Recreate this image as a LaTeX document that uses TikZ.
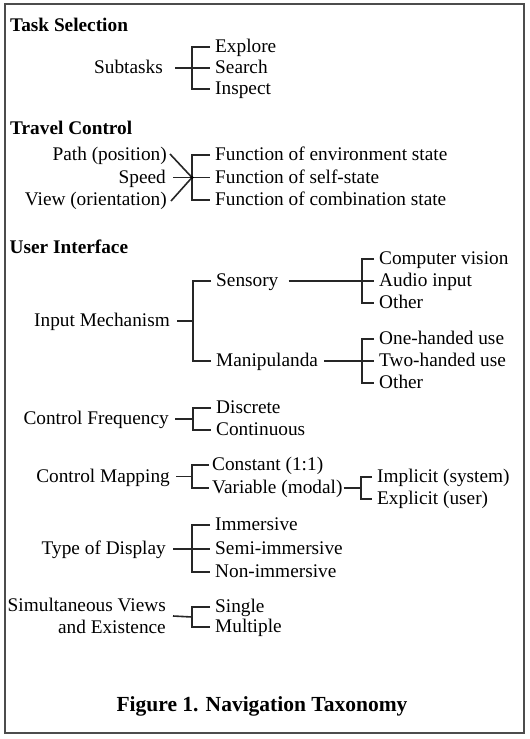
\documentclass[tikz,border=0pt]{standalone}
\usepackage{fontspec}
\setmainfont{Liberation Serif}
\begin{document}
\begin{tikzpicture}[x=1pt,y=-1pt,
  base/.style={inner sep=0pt, text height=14pt, text depth=3pt, font=\fontsize{19.3}{22}\selectfont},
  item/.style={base, anchor=west},
  lab/.style={base, anchor=east},
  head/.style={base, anchor=west, font=\fontsize{19.3}{22}\selectfont\bfseries},
  conn/.style={line width=1.6pt, draw=black!85},
  frame/.style={line width=1.8pt, draw=black!70}]
\useasboundingbox (0,0) rectangle (530,739);
\draw[frame] (5,4) rectangle (524,733);

% Task Selection
\node[head] (ts) at (10,25.5) {Task Selection};
\node[lab] (sub) at (163,68) {Subtasks};
\node[item] (exp) at (215,47) {Explore};
\node[item] (sea) at (215,68) {Search};
\node[item] (ins) at (215,89) {Inspect};
\coordinate (jsub) at (192,68);
\draw[conn] ([xshift=12pt]sub.east) -- (jsub) -- ([xshift=-5pt]sea.west);
\draw[conn] ([xshift=-5pt]exp.west) -| (jsub) |- ([xshift=-5pt]ins.west);

% Travel Control
\node[head] (tc) at (10,128.5) {Travel Control};
\node[lab] (path) at (167,155) {Path (position)};
\node[lab] (speed) at (166,177.5) {Speed};
\node[lab] (view) at (167,200) {View (orientation)};
\node[item] (fe) at (215,155) {Function of environment state};
\node[item] (fs) at (215,177.5) {Function of self-state};
\node[item] (fc) at (215,200) {Function of combination state};
\coordinate (jtc) at (192,177.5);
\draw[conn] ([xshift=3pt,yshift=1pt]path.east) -- (jtc);
\draw[conn] ([xshift=4pt,yshift=-1pt]view.east) -- (jtc);
\draw[conn] ([xshift=7pt]speed.east) -- (jtc) -- ([xshift=-5pt]fs.west);
\draw[conn] ([xshift=-5pt]fe.west) -| (jtc) |- ([xshift=-5pt]fc.west);
\fill[black] (jtc) circle (1.8pt);

% User Interface
\node[head] (ui) at (9.5,247.5) {User Interface};
\node[lab] (im) at (170,321) {Input Mechanism};
\node[item] (sens) at (216,281) {Sensory};
\node[item] (manip) at (216,361) {Manipulanda};
\coordinate (jim) at (193,321);
\draw[conn] ([xshift=7pt]im.east) -- (jim);
\draw[conn] ([xshift=-5pt]sens.west) -| (jim) |- ([xshift=-5pt]manip.west);

\node[item] (cv) at (379,259) {Computer vision};
\node[item] (ai) at (379,281) {Audio input};
\node[item] (oth1) at (379,303) {Other};
\coordinate (jsens) at (362,281);
\draw[conn] ([xshift=10pt]sens.east) -- (jsens) -- ([xshift=-5pt]ai.west);
\draw[conn] ([xshift=-5pt]cv.west) -| (jsens) |- ([xshift=-5pt]oth1.west);

\node[item] (one) at (379,339) {One-handed use};
\node[item] (two) at (379,361) {Two-handed use};
\node[item] (oth2) at (379,383) {Other};
\coordinate (jman) at (362,361);
\draw[conn] ([xshift=6pt]manip.east) -- (jman) -- ([xshift=-5pt]two.west);
\draw[conn] ([xshift=-5pt]one.west) -| (jman) |- ([xshift=-5pt]oth2.west);

% Control Frequency
\node[lab] (cf) at (169,419) {Control Frequency};
\node[item] (disc) at (216,408) {Discrete};
\node[item] (cont) at (216,430) {Continuous};
\coordinate (jcf) at (193,419);
\draw[conn] ([xshift=6pt]cf.east) -- (jcf);
\draw[conn] ([xshift=-5pt]disc.west) -| (jcf) |- ([xshift=-5pt]cont.west);

% Control Mapping
\node[lab] (cm) at (170,476.5) {Control Mapping};
\node[item] (const) at (212,465) {Constant (1:1)};
\node[item] (var) at (212,488) {Variable (modal)};
\coordinate (jcm) at (192,476.5);
\draw[conn] ([xshift=6pt]cm.east) -- (jcm);
\draw[conn] ([xshift=-3pt]const.west) -| (jcm) |- ([xshift=-3pt]var.west);

\node[item] (impl) at (377,477) {Implicit (system)};
\node[item] (expl) at (377,499) {Explicit (user)};
\coordinate (jvar) at (361,488);
\draw[conn] ([xshift=1pt]var.east) -- (jvar);
\draw[conn] ([xshift=-5pt]impl.west) -| (jvar) |- ([xshift=-5pt]expl.west);

% Type of Display
\node[lab] (tod) at (166,549) {Type of Display};
\node[item] (imm) at (215,525) {Immersive};
\node[item] (semi) at (215,549) {Semi-immersive};
\node[item] (non) at (215,572) {Non-immersive};
\coordinate (jtod) at (192,549);
\draw[conn] ([xshift=7pt]tod.east) -- (jtod) -- ([xshift=-5pt]semi.west);
\draw[conn] ([xshift=-5pt]imm.west) -| (jtod) |- ([xshift=-5pt]non.west);

% Simultaneous Views
\node[anchor=east, inner sep=0pt, align=right, font=\fontsize{19.3}{22}\selectfont] (sv) at (166,616) {Simultaneous Views\\and Existence};
\node[item] (sing) at (215,607) {Single};
\node[item] (mult) at (215,627) {Multiple};
\coordinate (jsv) at (192,617);
\draw[conn] ([xshift=7pt]sv.east) -- (jsv);
\draw[conn] ([xshift=-5pt]sing.west) -| (jsv) |- ([xshift=-5pt]mult.west);

% Caption
\node[anchor=base, inner sep=0pt, font=\fontsize{21.5}{24}\selectfont\bfseries] (cap) at (262,711) {Figure 1. Navigation Taxonomy};
\end{tikzpicture}
\end{document}
